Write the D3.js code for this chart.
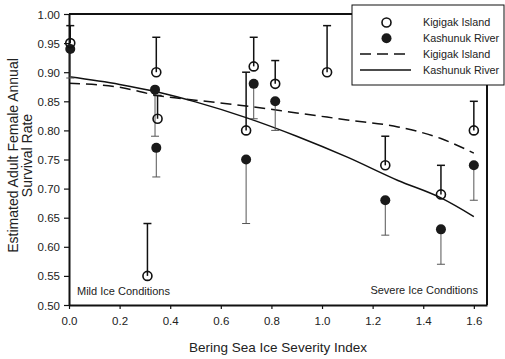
<!DOCTYPE html>
<html>
<head>
<meta charset="utf-8">
<script src="https://cdn.jsdelivr.net/npm/d3@7"></script>
<style>
  body { margin: 0; background: #fff; }
  svg text { font-family: "Liberation Sans", Arial, sans-serif; fill: #222; }
</style>
</head>
<body>
<div id="chart"></div>
<script>
// Kigigak Island: estimate with upper confidence limit
const kigigakIndex = [0.005, 0.31, 0.345, 0.35, 0.70, 0.73, 0.815, 1.02, 1.25, 1.47, 1.60];
const kigigakRate  = [0.95, 0.55, 0.90, 0.82, 0.80, 0.91, 0.88, 0.90, 0.74, 0.69, 0.80];
const kigigakUpper = [0.98, 0.64, 0.96, 0.86, 0.90, 0.96, 0.92, 0.98, 0.79, 0.74, 0.85];

// Kashunuk River: estimate with lower confidence limit
const kashunukIndex = [0.005, 0.34, 0.345, 0.70, 0.73, 0.815, 1.25, 1.47, 1.60];
const kashunukRate  = [0.94, 0.87, 0.77, 0.75, 0.88, 0.85, 0.68, 0.63, 0.74];
const kashunukLower = [0.89, 0.79, 0.72, 0.64, 0.82, 0.80, 0.62, 0.57, 0.68];

// fitted curves
const fitIndex    = [0, 0.2, 0.35, 0.5, 0.7, 0.9, 1.1, 1.3, 1.47, 1.6];
const kigigakFit  = [0.881, 0.874, 0.860, 0.852, 0.842, 0.830, 0.818, 0.806, 0.786, 0.761];
const kashunukFit = [0.892, 0.879, 0.866, 0.849, 0.822, 0.790, 0.754, 0.714, 0.684, 0.652];

const xTicks = [0, 0.2, 0.4, 0.6, 0.8, 1.0, 1.2, 1.4, 1.6];
const yTicks = [0.50, 0.55, 0.60, 0.65, 0.70, 0.75, 0.80, 0.85, 0.90, 0.95, 1.00];

const W = 505, H = 359;
const margin = { top: 14, right: 18, bottom: 54, left: 69 };

const svg = d3.select('#chart').append('svg')
  .attr('width', W)
  .attr('height', H);

const x = d3.scaleLinear().domain([0, 1.652]).range([margin.left, W - margin.right]);
const y = d3.scaleLinear().domain([0.5, 1.0]).range([H - margin.bottom, margin.top]);

// frame (top + right)
svg.append('path')
  .attr('d', `M${x(0)},${y(1)}H${x(1.652)}V${y(0.5)}`)
  .attr('fill', 'none').attr('stroke', '#111').attr('stroke-width', 2);

// axes
const xAxis = svg.append('g')
  .attr('transform', `translate(0,${y(0.5)})`)
  .call(d3.axisBottom(x).tickValues(xTicks).tickFormat(d3.format('.1f')).tickSize(4).tickSizeOuter(0));
const yAxis = svg.append('g')
  .attr('transform', `translate(${x(0)},0)`)
  .call(d3.axisLeft(y).tickValues(yTicks).tickFormat(d3.format('.2f')).tickSize(5).tickSizeOuter(0));

[xAxis, yAxis].forEach(g => {
  g.select('.domain').attr('stroke', '#111').attr('stroke-width', 2);
  g.selectAll('.tick line').attr('stroke', '#111').attr('stroke-width', 1.2);
  g.selectAll('.tick text').attr('font-size', 11.5).attr('fill', '#222');
});
xAxis.selectAll('.tick text').attr('dy', '1.1em');
yAxis.selectAll('.tick text').attr('x', -9).attr('dy', '0.35em');

// fitted curves
const fitLine = vals => d3.line()
  .x((d, i) => x(fitIndex[i]))
  .y(d => y(d))
  .curve(d3.curveMonotoneX)(vals);

svg.append('path').attr('d', fitLine(kigigakFit))
  .attr('fill', 'none').attr('stroke', '#111').attr('stroke-width', 1.5)
  .attr('stroke-dasharray', '11,6');
svg.append('path').attr('d', fitLine(kashunukFit))
  .attr('fill', 'none').attr('stroke', '#111').attr('stroke-width', 1.5);

// error bars
const cap = 4;
kashunukIndex.forEach((v, i) => {
  const cx = x(v);
  svg.append('line').attr('x1', cx).attr('x2', cx)
    .attr('y1', y(kashunukRate[i])).attr('y2', y(kashunukLower[i]))
    .attr('stroke', '#555').attr('stroke-width', 1);
  svg.append('line').attr('x1', cx - cap).attr('x2', cx + cap)
    .attr('y1', y(kashunukLower[i])).attr('y2', y(kashunukLower[i]))
    .attr('stroke', '#555').attr('stroke-width', 1);
});
kigigakIndex.forEach((v, i) => {
  const cx = x(v);
  svg.append('line').attr('x1', cx).attr('x2', cx)
    .attr('y1', y(kigigakRate[i])).attr('y2', y(kigigakUpper[i]))
    .attr('stroke', '#111').attr('stroke-width', 1.5);
  svg.append('line').attr('x1', cx - cap).attr('x2', cx + cap)
    .attr('y1', y(kigigakUpper[i])).attr('y2', y(kigigakUpper[i]))
    .attr('stroke', '#111').attr('stroke-width', 1.5);
});

// points
svg.selectAll('.kash')
  .data(kashunukIndex)
  .enter().append('circle')
  .attr('class', 'kash')
  .attr('cx', d => x(d))
  .attr('cy', (d, i) => y(kashunukRate[i]))
  .attr('r', 5)
  .attr('fill', '#1a1a1a');

svg.selectAll('.kig')
  .data(kigigakIndex)
  .enter().append('circle')
  .attr('class', 'kig')
  .attr('cx', d => x(d))
  .attr('cy', (d, i) => y(kigigakRate[i]))
  .attr('r', 4.5)
  .attr('fill', 'none')
  .attr('stroke', '#111')
  .attr('stroke-width', 1.6);

// annotations
svg.append('text').attr('x', x(0) + 8).attr('y', y(0.5) - 10)
  .attr('font-size', 11).text('Mild Ice Conditions');
svg.append('text').attr('x', x(1.652) - 9).attr('y', y(0.5) - 11)
  .attr('font-size', 11).attr('text-anchor', 'end').text('Severe Ice Conditions');

// axis titles
svg.append('text').attr('x', (x(0) + x(1.652)) / 2).attr('y', 352)
  .attr('font-size', 13.5).attr('text-anchor', 'middle')
  .text('Bering Sea Ice Severity Index');

const yt = svg.append('text')
  .attr('transform', `translate(18,${(y(0.5) + y(1)) / 2 - 4}) rotate(-90)`)
  .attr('font-size', 14).attr('text-anchor', 'middle');
yt.append('tspan').attr('x', 0).attr('dy', 0).text('Estimated Adult Female Annual');
yt.append('tspan').attr('x', 0).attr('dy', 14).text('Survival Rate');

// legend
const legend = svg.append('g');
legend.append('rect')
  .attr('x', 352).attr('y', 5).attr('width', 152).attr('height', 80)
  .attr('fill', '#fff').attr('stroke', '#111').attr('stroke-width', 1);

const legendRows = [
  { label: 'Kigigak Island', kind: 'open' },
  { label: 'Kashunuk River', kind: 'filled' },
  { label: 'Kigigak Island', kind: 'dashed' },
  { label: 'Kashunuk River', kind: 'solid' }
];
legendRows.forEach((row, i) => {
  const ly = 22.5 + i * 15.8;
  if (row.kind === 'open') {
    legend.append('circle').attr('cx', 386.5).attr('cy', ly).attr('r', 4.5)
      .attr('fill', 'none').attr('stroke', '#111').attr('stroke-width', 1.6);
  } else if (row.kind === 'filled') {
    legend.append('circle').attr('cx', 386.5).attr('cy', ly).attr('r', 5).attr('fill', '#1a1a1a');
  } else {
    legend.append('line').attr('x1', 360).attr('x2', 411).attr('y1', ly).attr('y2', ly)
      .attr('stroke', '#111').attr('stroke-width', 1.5)
      .attr('stroke-dasharray', row.kind === 'dashed' ? '11,6' : null);
  }
  legend.append('text').attr('x', 423).attr('y', ly).attr('dy', '0.35em')
    .attr('font-size', 10.8).text(row.label);
});
</script>
</body>
</html>
